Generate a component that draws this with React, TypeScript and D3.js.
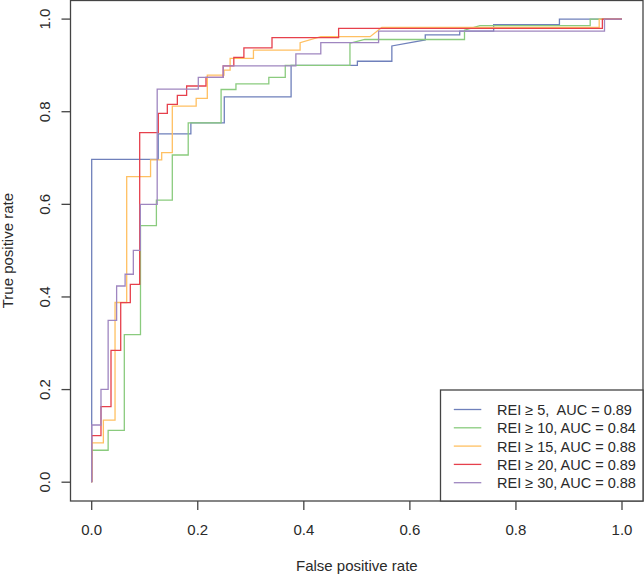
import React from "react";
import * as d3 from "d3";

const xTicks = [0, 0.2, 0.4, 0.6, 0.8, 1.0];
const yTicks = [0, 0.2, 0.4, 0.6, 0.8, 1.0];

const seriesNames = [
  "REI \u2265 5,  AUC = 0.89",
  "REI \u2265 10, AUC = 0.84",
  "REI \u2265 15, AUC = 0.88",
  "REI \u2265 20, AUC = 0.89",
  "REI \u2265 30, AUC = 0.88",
];
const seriesColors = ["#6f80bb", "#8acb7e", "#ffc062", "#e6404c", "#9f86c0"];

const fpr5 = [0, 0, 0.1255, 0.1255, 0.187, 0.187, 0.25, 0.25, 0.376, 0.376, 0.501, 0.501, 0.566, 0.566, 0.629, 0.629, 0.694, 0.694, 0.758, 0.758, 0.882, 0.882, 1];
const tpr5 = [0, 0.697, 0.697, 0.752, 0.752, 0.776, 0.776, 0.832, 0.832, 0.9, 0.9, 0.909, 0.909, 0.942, 0.955, 0.966, 0.966, 0.974, 0.974, 0.988, 0.988, 1, 1];

const fpr10 = [0, 0, 0.031, 0.031, 0.0615, 0.0615, 0.092, 0.092, 0.122, 0.122, 0.152, 0.152, 0.182, 0.182, 0.244, 0.244, 0.272, 0.272, 0.334, 0.334, 0.365, 0.365, 0.487, 0.487, 0.515, 0.703, 0.703, 0.732, 0.94, 0.94, 1];
const tpr10 = [0, 0.069, 0.069, 0.112, 0.112, 0.3185, 0.3185, 0.554, 0.554, 0.609, 0.609, 0.7065, 0.7065, 0.776, 0.776, 0.848, 0.848, 0.86, 0.86, 0.874, 0.874, 0.9, 0.9, 0.948, 0.956, 0.956, 0.976, 0.986, 0.986, 1, 1];

const fpr15 = [0, 0, 0.022, 0.022, 0.044, 0.044, 0.066, 0.066, 0.111, 0.111, 0.132, 0.132, 0.152, 0.152, 0.197, 0.197, 0.218, 0.218, 0.2495, 0.2495, 0.261, 0.261, 0.305, 0.305, 0.393, 0.393, 0.432, 0.525, 0.547, 0.957, 0.957, 1];
const tpr15 = [0, 0.085, 0.085, 0.134, 0.134, 0.388, 0.388, 0.66, 0.66, 0.696, 0.696, 0.7115, 0.7115, 0.812, 0.812, 0.829, 0.829, 0.879, 0.879, 0.89, 0.89, 0.915, 0.915, 0.933, 0.933, 0.949, 0.962, 0.962, 0.982, 0.982, 1, 1];

const fpr20 = [0, 0, 0.0175, 0.0175, 0.0364, 0.0364, 0.0547, 0.0547, 0.0728, 0.0728, 0.0905, 0.0905, 0.1256, 0.1256, 0.1426, 0.1426, 0.1615, 0.1615, 0.179, 0.179, 0.2155, 0.2155, 0.248, 0.248, 0.268, 0.268, 0.287, 0.287, 0.34, 0.34, 0.4656, 0.4656, 0.963, 0.963, 1];
const tpr20 = [0, 0.1005, 0.1005, 0.163, 0.163, 0.2848, 0.2848, 0.3877, 0.3877, 0.4273, 0.4273, 0.7547, 0.7547, 0.7966, 0.7966, 0.816, 0.816, 0.8354, 0.8354, 0.8555, 0.8555, 0.874, 0.874, 0.899, 0.899, 0.9175, 0.9175, 0.938, 0.938, 0.96, 0.96, 0.98, 0.98, 1, 1];

const fpr30 = [0, 0, 0.0175, 0.0175, 0.031, 0.031, 0.047, 0.047, 0.063, 0.063, 0.0785, 0.0785, 0.0917, 0.0917, 0.1235, 0.1235, 0.201, 0.201, 0.248, 0.248, 0.385, 0.385, 0.432, 0.432, 0.541, 0.541, 0.967, 0.967, 1];
const tpr30 = [0, 0.1235, 0.1235, 0.2006, 0.2006, 0.3496, 0.3496, 0.4237, 0.4237, 0.449, 0.449, 0.5007, 0.5007, 0.6, 0.6, 0.849, 0.849, 0.874, 0.874, 0.899, 0.899, 0.925, 0.925, 0.949, 0.949, 0.974, 0.974, 1, 1];

const seriesFpr = [fpr5, fpr10, fpr15, fpr20, fpr30];
const seriesTpr = [tpr5, tpr10, tpr15, tpr20, tpr30];

const FONT = "'Liberation Sans', Arial, sans-serif";
const TXT = "#2a2a2a";
const AX = "#444";

export default function App() {
  const x = d3.scaleLinear().domain([0, 1]).range([91.7, 622]);
  const y = d3.scaleLinear().domain([0, 1]).range([482.2, 19.1]);
  const box = { l: 70.5, t: 0.5, r: 643, b: 501 };
  const line = d3
    .line<[number, number]>()
    .x((d) => x(d[0]))
    .y((d) => y(d[1]));

  const legend = { l: 440.5, t: 390, r: 643, b: 501 };
  const legendRow0 = 409.5;
  const legendStep = 18.3;

  return (
    <div style={{ position: "absolute", left: 0, top: 0 }}>
      <svg width={644} height={575} style={{ display: "block", background: "#fff" }}>
        <rect x={0} y={0} width={644} height={575} fill="#fff" />
        {seriesFpr.map((fx, i) => {
          const pts = fx.map((v, k) => [v, seriesTpr[i][k]] as [number, number]);
          return (
            <path
              key={i}
              d={line(pts) || ""}
              fill="none"
              stroke={seriesColors[i]}
              strokeWidth={1.3}
            />
          );
        })}
        <rect
          x={box.l}
          y={box.t}
          width={box.r - box.l}
          height={box.b - box.t}
          fill="none"
          stroke={AX}
          strokeWidth={1.3}
        />
        {xTicks.map((t) => (
          <g key={"x" + t}>
            <line x1={x(t)} x2={x(t)} y1={box.b} y2={box.b + 9} stroke={AX} strokeWidth={1.3} />
            <text x={x(t)} y={535} textAnchor="middle" fontFamily={FONT} fontSize={15} fill={TXT}>
              {t.toFixed(1)}
            </text>
          </g>
        ))}
        {yTicks.map((t) => (
          <g key={"y" + t}>
            <line x1={box.l - 9} x2={box.l} y1={y(t)} y2={y(t)} stroke={AX} strokeWidth={1.3} />
            <text
              transform={`translate(50,${y(t)}) rotate(-90)`}
              textAnchor="middle"
              fontFamily={FONT}
              fontSize={15}
              fill={TXT}
            >
              {t.toFixed(1)}
            </text>
          </g>
        ))}
        <text x={(x(0) + x(1)) / 2} y={571} textAnchor="middle" fontFamily={FONT} fontSize={15} fill={TXT}>
          False positive rate
        </text>
        <text
          transform={`translate(12.5,${(y(0) + y(1)) / 2}) rotate(-90)`}
          textAnchor="middle"
          fontFamily={FONT}
          fontSize={15}
          fill={TXT}
        >
          True positive rate
        </text>
        <rect
          x={legend.l}
          y={legend.t}
          width={legend.r - legend.l}
          height={legend.b - legend.t}
          fill="#fff"
          stroke={AX}
          strokeWidth={1.3}
        />
        {seriesNames.map((name, i) => {
          const cy = legendRow0 + i * legendStep;
          return (
            <g key={name}>
              <line x1={453.8} x2={481.3} y1={cy} y2={cy} stroke={seriesColors[i]} strokeWidth={1.3} />
              <text
                x={497}
                y={cy + 5.5}
                fontFamily={FONT}
                fontSize={14.5}
                fill={TXT}
                style={{ whiteSpace: "pre" }}
              >
                {name}
              </text>
            </g>
          );
        })}
      </svg>
    </div>
  );
}
